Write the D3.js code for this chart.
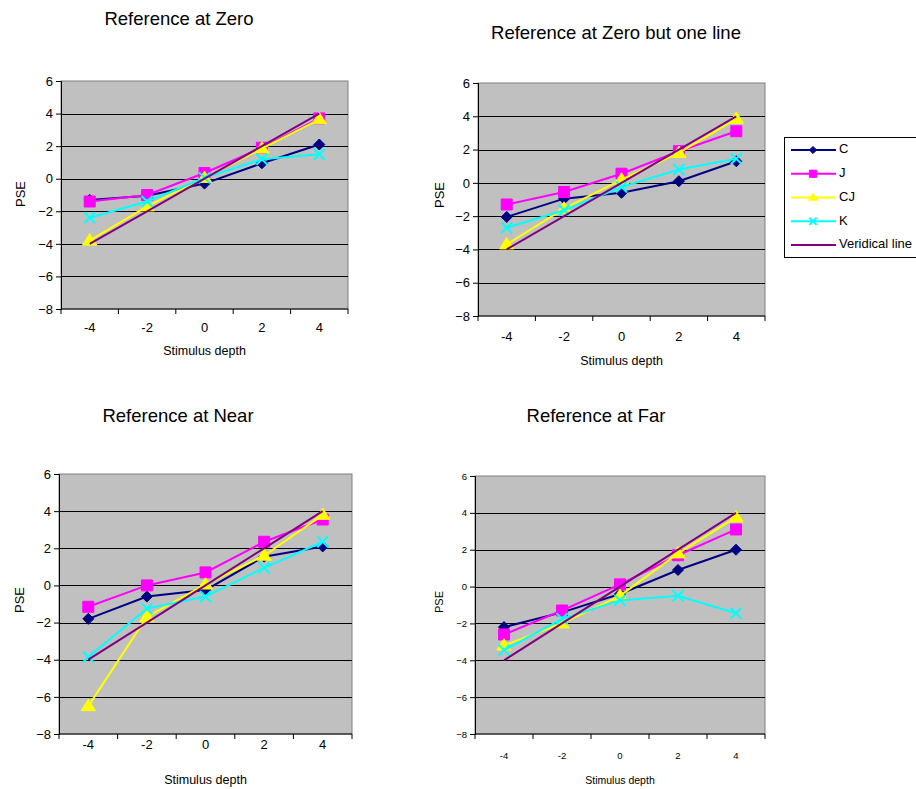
<!DOCTYPE html>
<html>
<head>
<meta charset="utf-8">
<script src="https://cdn.jsdelivr.net/npm/d3@7"></script>
<style>
  body { margin: 0; background: #fff; }
  svg { display: block; font-family: "Liberation Sans", Arial, sans-serif; }
</style>
</head>
<body>
<svg id="chart" width="916" height="789"></svg>
<script>
// stimulus depths on the x axis (categories)
const depths = [-4, -2, 0, 2, 4];
const yTicks = [-8, -6, -4, -2, 0, 2, 4, 6];
const seriesNames = ['C', 'J', 'CJ', 'K', 'Veridical line'];
const seriesColors = ['#000080', '#FF00FF', '#FFFF00', '#00FFFF', '#800080'];
const seriesMarkers = ['diamond', 'square', 'triangle', 'x', 'none'];
const panelTitles = ['Reference at Zero', 'Reference at Zero but one line', 'Reference at Near', 'Reference at Far'];

// PSE values
const zeroC  = [-1.3, -1.05, -0.3, 0.95, 2.1];
const zeroJ  = [-1.4, -1.0, 0.35, 1.9, 3.7];
const zeroCJ = [-3.8, -1.7, 0.05, 1.85, 3.65];
const zeroK  = [-2.4, -1.4, 0.05, 1.2, 1.5];

const oneLineC  = [-2.05, -0.95, -0.6, 0.1, 1.3];
const oneLineJ  = [-1.3, -0.55, 0.55, 1.9, 3.1];
const oneLineCJ = [-3.7, -1.55, 0.2, 1.8, 3.85];
const oneLineK  = [-2.7, -1.65, -0.25, 0.8, 1.45];

const nearC  = [-1.8, -0.6, -0.25, 1.55, 2.1];
const nearJ  = [-1.15, 0.0, 0.7, 2.35, 3.55];
const nearCJ = [-6.5, -1.7, 0.05, 1.6, 3.8];
const nearK  = [-3.85, -1.25, -0.6, 0.95, 2.35];

const farC  = [-2.2, -1.4, -0.4, 0.9, 2.0];
const farJ  = [-2.6, -1.3, 0.12, 1.7, 3.1];
const farCJ = [-3.2, -2.0, -0.5, 1.8, 3.75];
const farK  = [-3.45, -1.75, -0.75, -0.5, -1.45];

const veridical = [-4, -2, 0, 2, 4];

const panelData = [
  [zeroC, zeroJ, zeroCJ, zeroK, veridical],
  [oneLineC, oneLineJ, oneLineCJ, oneLineK, veridical],
  [nearC, nearJ, nearCJ, nearK, veridical],
  [farC, farJ, farCJ, farK, veridical]
];

// layout of each chart on the page
const panelLayout = [
  {x0: 61, y0: 81, x1: 348, y1: 309, titleX: 179, titleY: 25, tickFont: 13, labelFont: 12.5,
   xTickY: 329, xLabelY: 352, yLabelX: 22, yLabelY: 194, yLabelFont: 13},
  {x0: 478, y0: 83, x1: 765, y1: 316, titleX: 616, titleY: 39, tickFont: 13, labelFont: 12.5,
   xTickY: 338, xLabelY: 362, yLabelX: 441, yLabelY: 195, yLabelFont: 13},
  {x0: 59, y0: 474, x1: 352, y1: 734, titleX: 178, titleY: 422, tickFont: 13, labelFont: 12.5,
   xTickY: 746, xLabelY: 781, yLabelX: 21, yLabelY: 600, yLabelFont: 13},
  {x0: 475, y0: 476, x1: 765, y1: 734, titleX: 596, titleY: 422, tickFont: 9.5, labelFont: 10.5,
   xTickY: 756, xLabelY: 781, yLabelX: 440, yLabelY: 602, yLabelFont: 11}
];

const svg = d3.select('#chart');

function markerPath(type, s) {
  if (type === 'diamond') return `M0,${-s}L${s},0L0,${s}L${-s},0Z`;
  if (type === 'square') return `M${-s},${-s}H${s}V${s}H${-s}Z`;
  if (type === 'triangle') return `M0,${-s * 1.15}L${s * 1.2},${s * 0.75}L${-s * 1.2},${s * 0.75}Z`;
  if (type === 'x') return `M${-s},${-s}L${s},${s}M${-s},${s}L${s},${-s}`;
  return '';
}
const markerSize = {diamond: 5.5, square: 5.5, triangle: 6, x: 5.5};

function drawPanel(i) {
  const L = panelLayout[i];
  const g = svg.append('g').attr('class', 'panel');

  const x = d3.scaleBand().domain(depths).range([L.x0, L.x1]);
  const y = d3.scaleLinear().domain([-8, 6]).range([L.y1, L.y0]);

  // plot area
  g.append('rect')
    .attr('x', L.x0).attr('y', L.y0)
    .attr('width', L.x1 - L.x0).attr('height', L.y1 - L.y0)
    .attr('fill', '#C0C0C0').attr('stroke', '#808080').attr('stroke-width', 1);

  // horizontal gridlines
  g.append('g').selectAll('line')
    .data(yTicks.filter(d => d > -8 && d < 6))
    .enter().append('line')
    .attr('x1', L.x0).attr('x2', L.x1)
    .attr('y1', d => Math.round(y(d)) + 0.5).attr('y2', d => Math.round(y(d)) + 0.5)
    .attr('stroke', '#000').attr('stroke-width', 1);

  // y axis
  const yAxis = d3.axisLeft(y).tickValues(yTicks).tickSize(5).tickPadding(3).tickFormat(d3.format('d'));
  const ya = g.append('g').attr('transform', `translate(${L.x0},0)`).call(yAxis);
  ya.select('.domain').attr('stroke', '#000');
  ya.selectAll('.tick line').attr('stroke', '#000');
  ya.selectAll('text').attr('font-size', L.tickFont).attr('fill', '#000')
    .attr('font-family', '"Liberation Sans", Arial, sans-serif');

  // x axis: ticks at category boundaries, labels at centres
  const xa = g.append('g').attr('transform', `translate(0,${L.y1})`);
  xa.append('line').attr('x1', L.x0).attr('x2', L.x1).attr('stroke', '#000');
  const bounds = depths.map(d => x(d)).concat([L.x1]);
  xa.selectAll('line.tk').data(bounds).enter().append('line').attr('class', 'tk')
    .attr('x1', d => d).attr('x2', d => d).attr('y1', 0).attr('y2', 5).attr('stroke', '#000');
  g.append('g').selectAll('text').data(depths).enter().append('text')
    .attr('x', d => x(d) + x.bandwidth() / 2)
    .attr('y', L.xTickY)
    .attr('text-anchor', 'middle')
    .attr('dominant-baseline', 'middle')
    .attr('font-size', L.tickFont)
    .text(d => d);

  // axis titles
  g.append('text')
    .attr('x', (L.x0 + L.x1) / 2).attr('y', L.xLabelY)
    .attr('text-anchor', 'middle').attr('dominant-baseline', 'middle')
    .attr('font-size', L.labelFont).text('Stimulus depth');
  g.append('text')
    .attr('transform', `translate(${L.yLabelX},${L.yLabelY}) rotate(-90)`)
    .attr('text-anchor', 'middle').attr('dominant-baseline', 'middle')
    .attr('font-size', L.yLabelFont).text('PSE');

  // chart title
  g.append('text')
    .attr('x', L.titleX).attr('y', L.titleY)
    .attr('text-anchor', 'middle')
    .attr('font-size', 18.5).text(panelTitles[i]);

  // series: lines then markers, in series order
  const line = d3.line()
    .x((d, k) => x(depths[k]) + x.bandwidth() / 2)
    .y(d => y(d));

  panelData[i].forEach((vals, s) => {
    const sg = g.append('g').attr('class', 'series');
    sg.append('path')
      .attr('d', line(vals))
      .attr('fill', 'none')
      .attr('stroke', seriesColors[s])
      .attr('stroke-width', 2);
    const type = seriesMarkers[s];
    if (type === 'none') return;
    sg.selectAll('path.mk').data(vals).enter().append('path').attr('class', 'mk')
      .attr('transform', (d, k) => `translate(${x(depths[k]) + x.bandwidth() / 2},${y(d)})`)
      .attr('d', markerPath(type, markerSize[type]))
      .attr('fill', type === 'x' ? 'none' : seriesColors[s])
      .attr('stroke', seriesColors[s])
      .attr('stroke-width', type === 'x' ? 2 : 1);
  });
}

for (let i = 0; i < panelLayout.length; i++) drawPanel(i);

// legend
const lg = svg.append('g').attr('class', 'legend');
lg.append('rect')
  .attr('x', 784.5).attr('y', 137.5).attr('width', 140).attr('height', 120)
  .attr('fill', '#fff').attr('stroke', '#000').attr('stroke-width', 1);
const legendY = d3.scalePoint().domain(seriesNames).range([150, 245]);
seriesNames.forEach((name, s) => {
  const yy = legendY(name);
  lg.append('line').attr('x1', 791).attr('x2', 836).attr('y1', yy).attr('y2', yy)
    .attr('stroke', seriesColors[s]).attr('stroke-width', 2);
  const type = seriesMarkers[s];
  if (type !== 'none') {
    lg.append('path')
      .attr('transform', `translate(813,${yy})`)
      .attr('d', markerPath(type, 3.6))
      .attr('fill', type === 'x' ? 'none' : seriesColors[s])
      .attr('stroke', seriesColors[s])
      .attr('stroke-width', type === 'x' ? 2 : 1);
  }
  lg.append('text').attr('x', 839).attr('y', yy)
    .attr('dominant-baseline', 'middle').attr('font-size', 13).text(name);
});
</script>
</body>
</html>
